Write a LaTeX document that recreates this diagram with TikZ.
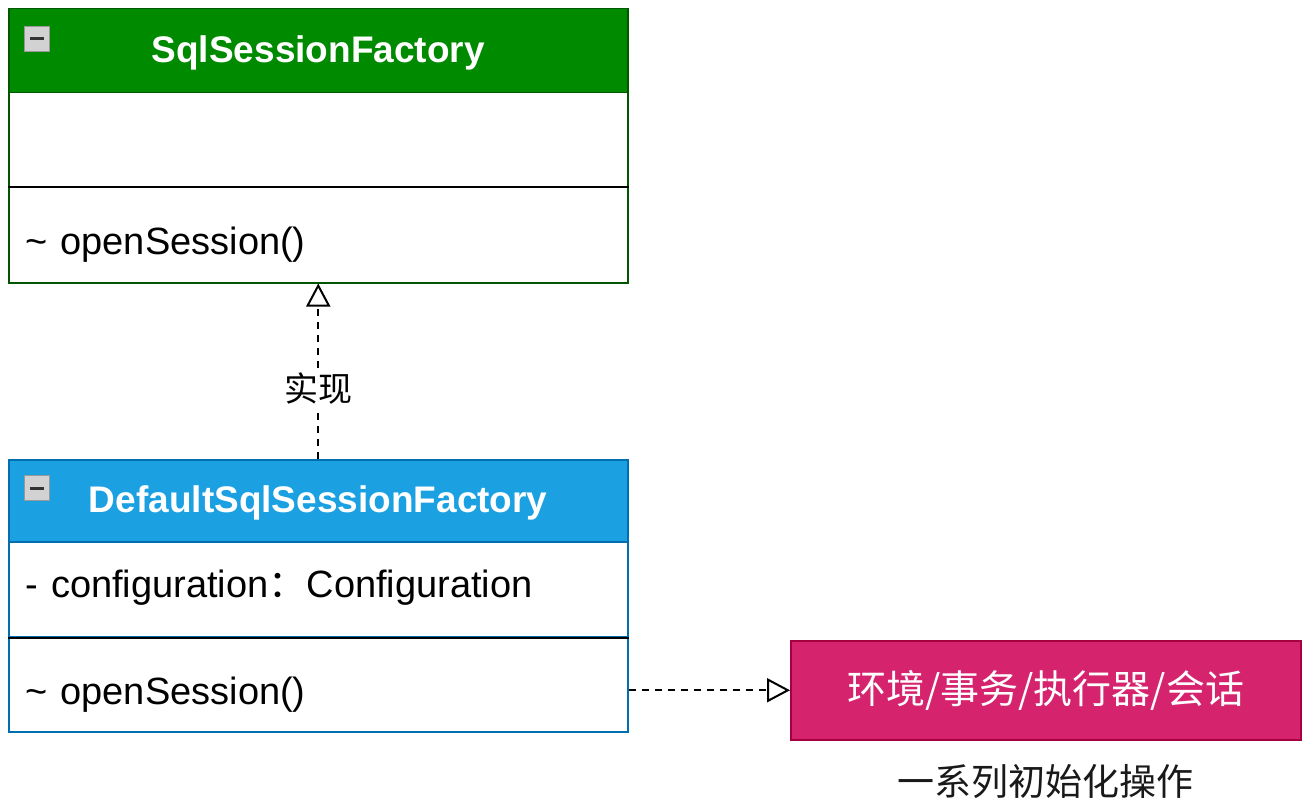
\documentclass[tikz,border=0pt]{standalone}
\usepackage{fontspec}
\setmainfont{Liberation Sans}
\newfontfamily\cjk{Noto Sans CJK SC}
\usetikzlibrary{arrows.meta,positioning}

\definecolor{headGreen}{HTML}{008A00}
\definecolor{edgeGreen}{HTML}{005700}
\definecolor{headBlue}{HTML}{1BA1E2}
\definecolor{edgeBlue}{HTML}{006EAF}
\definecolor{envPink}{HTML}{D5236E}
\definecolor{edgePink}{HTML}{A50040}

\tikzset{
	head/.style={anchor=north west, minimum width=619pt, inner sep=0pt, line width=1.5pt,
		text=white, text depth=4pt, font=\fontsize{37}{41}\selectfont\bfseries},
	part/.style={anchor=north west, minimum width=619pt, inner xsep=17pt, inner ysep=0pt,
		text width=585pt, align=left, line width=1.5pt, fill=white},
	opspart/.style={part, text height=52pt, text depth=12pt},
	iconbox/.style={minimum size=25pt, inner sep=0pt, fill=gray!35, draw=gray!80, line width=1.2pt},
	minusbar/.style={line width=3pt, color=black!80},
	divider/.style={line width=2pt, color=black},
	implements/.style={line width=2pt, dash pattern=on 7pt off 6pt,
		-{Triangle[open, length=23pt, width=24pt]}},
}

\begin{document}
\begin{tikzpicture}[x=1pt, y=-1pt, font=\fontsize{38}{42}\selectfont]
	\useasboundingbox (0,0) rectangle (1304,805);

	\node[head, fill=headGreen, draw=edgeGreen, minimum height=84pt] (sqlHead) at (8,8) {SqlSessionFactory};
	\node[part, draw=edgeGreen, minimum height=94pt] (sqlAttr) at (8,92) {};
	\node[opspart, draw=edgeGreen, minimum height=96pt] (sqlOps) at (8,186) {\textasciitilde{} openSession()};
	\draw[divider] (sqlAttr.south west) -- (sqlAttr.south east);
	\node[iconbox] (sqlIcon) at (37,39) {};
	\draw[minusbar] ([xshift=-7pt]sqlIcon.center) -- ([xshift=7pt]sqlIcon.center);

	\node[head, fill=headBlue, draw=edgeBlue, minimum height=82pt] (dfHead) at (8,459) {DefaultSqlSessionFactory};
	\node[part, draw=edgeBlue, minimum height=95pt] (dfAttr) at (8,541) {\strut- configuration{\cjk ：}Configuration};
	\node[opspart, draw=edgeBlue, minimum height=95pt] (dfOps) at (8,636) {\textasciitilde{} openSession()};
	\draw[divider] (dfAttr.south west) -- (dfAttr.south east);
	\node[iconbox] (dfIcon) at (37,488) {};
	\draw[minusbar] ([xshift=-7pt]dfIcon.center) -- ([xshift=7pt]dfIcon.center);

	\node[anchor=north west, minimum width=510pt, minimum height=99pt, inner sep=0pt,
		fill=envPink, draw=edgePink, line width=1.5pt, text=white,
		font=\cjk\fontsize{39}{43}\selectfont] (envBox) at (790,640) {环境/事务/执行器/会话};
	\node[font=\cjk\fontsize{37}{41}\selectfont, text=black!90] (initNote) at (1045,782) {一系列初始化操作};

	\draw[implements] (dfHead.north) -- node[pos=0.4, fill=white, inner sep=2pt,
		font=\cjk\fontsize{34}{38}\selectfont] (implLabel) {实现} (sqlOps.south);
	\draw[implements] (dfOps.east |- envBox.west) -- (envBox.west);
\end{tikzpicture}
\end{document}
